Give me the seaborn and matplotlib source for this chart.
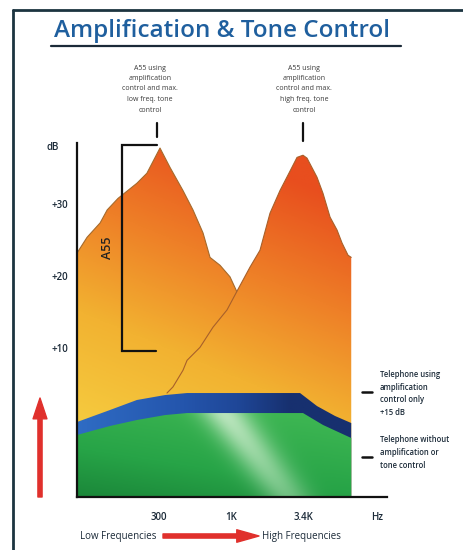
import numpy as np
import matplotlib.pyplot as plt
import seaborn as sns
from matplotlib.colors import LinearSegmentedColormap, to_rgb
from matplotlib.lines import Line2D
from matplotlib.patches import FancyArrowPatch
from matplotlib.ticker import FixedLocator, NullLocator


# Curves (frequency in Hz, level in dB)
low_tone_hz = [76, 90, 112, 126, 151, 207, 245, 305, 361, 448, 530, 627, 705, 834, 985, 1107, 1400, 1800]
low_tone_db = [23.2, 25.4, 27.4, 29.2, 30.8, 32.9, 34.3, 37.8, 35.1, 31.9, 29.2, 26.0, 22.6, 21.5, 19.9, 17.8, 10.0, 3.0]

high_tone_hz = [343, 379, 448, 480, 596, 741, 937, 1107, 1377, 1628, 1925, 2276, 2692, 3026,
                3344, 3576, 4227, 4675, 5260, 5915, 6430, 7110, 7500]
high_tone_db = [3.75, 4.6, 6.9, 8.3, 10.1, 12.9, 15.3, 17.9, 21.25, 23.6, 28.75, 31.9, 34.6, 36.5,
                36.8, 36.4, 33.75, 31.5, 28.2, 26.4, 24.6, 22.9, 22.6]

amp_only_hz = [76, 132, 207, 332, 480, 3182, 4227, 5718, 7500]
amp_only_db = [-0.28, 1.39, 2.78, 3.47, 3.75, 3.75, 1.94, 0.56, -0.42]

plain_phone_hz = [76, 132, 207, 332, 480, 3344, 4675, 7500]
plain_phone_db = [-2.08, -0.83, 0.0, 0.69, 0.97, 0.97, -0.69, -2.5]

x_ticks = [300, 1000, 3400]
x_tick_labels = ["300", "1K", "3.4K"]
y_ticks = [0, 10, 20, 30]
y_tick_labels = ["", "+10", "+20", "+30"]

x_range = (76, 13650)
y_range = (-10.7, 38.5)

W, H = 464, 550
ink = "#1b2a38"


def fx(x):
    return x / W


def fy(y):
    return 1 - y / H


def clip_to(im, coll):
    im.set_clip_path(coll.get_paths()[0], coll.get_transform())


sns.set_theme(style="white")
plt.rcParams["font.family"] = ["Open Sans", "DejaVu Sans"]

fig = plt.figure(figsize=(W / 100, H / 100), dpi=100)
ax = fig.add_axes([fx(77), fy(497), fx(387) - fx(77), fy(143) - fy(497)])
ax.set_xscale("log")
ax.set_xlim(*x_range)
ax.set_ylim(*y_range)
ax.set_autoscale_on(False)

# gradient images in axes space
u, v = np.meshgrid(np.linspace(0, 1, 300), np.linspace(0, 1, 300))

orange_cmap = LinearSegmentedColormap.from_list(
    "orng", [(0, "#f6d343"), (0.4, "#f2b231"), (0.7, "#ee7f27"), (1, "#e84e1e")])
t_orange = np.clip(0.95 * v + 0.35 * u - 0.1, 0, 1)
orange_img = orange_cmap(t_orange)

blue_cmap = LinearSegmentedColormap.from_list(
    "blu", [(0, "#2f6cc4"), (0.5, "#2455ac"), (0.75, "#1f4798"), (1, "#17306f")])
blue_img = blue_cmap(np.clip(u * 1.45, 0, 1))

green_cmap = LinearSegmentedColormap.from_list(
    "grn", [(0, "#0f6a2c"), (0.6, "#27a447"), (1, "#3cb552")])
green_base = green_cmap(np.clip(0.3 + 2.2 * v + 0.3 * u, 0, 1))[..., :3]
band = np.exp(-((u - (0.68 - 0.87 * v)) ** 2) / 0.006) * np.clip(0.45 + 1.8 * v, 0, 0.85)
hi = np.array(to_rgb("#cdeccd"))
green_img = green_base * (1 - band[..., None]) + hi * band[..., None]

floor = y_range[0]

# A55, low frequency tone control
low_fill = ax.fill_between(low_tone_hz, low_tone_db, floor, facecolor="none", edgecolor="none", zorder=1)
im = ax.imshow(orange_img, extent=[0, 1, 0, 1], transform=ax.transAxes, origin="lower",
               aspect="auto", interpolation="bilinear", zorder=1)
clip_to(im, low_fill)
sns.lineplot(x=low_tone_hz, y=low_tone_db, sort=False, estimator=None, color="#a56a2c",
             lw=0.8, ax=ax, zorder=1.5)

# A55, high frequency tone control
high_fill = ax.fill_between(high_tone_hz, high_tone_db, floor, facecolor="none", edgecolor="none", zorder=2)
im = ax.imshow(orange_img, extent=[0, 1, 0, 1], transform=ax.transAxes, origin="lower",
               aspect="auto", interpolation="bilinear", zorder=2)
clip_to(im, high_fill)
sns.lineplot(x=high_tone_hz, y=high_tone_db, sort=False, estimator=None, color="#a8602a",
             lw=0.8, ax=ax, zorder=2.5)

# telephone with amplification only
amp_fill = ax.fill_between(amp_only_hz, amp_only_db, floor, facecolor="none", edgecolor="none", zorder=3)
im = ax.imshow(blue_img, extent=[0, 1, 0, 1], transform=ax.transAxes, origin="lower",
               aspect="auto", interpolation="bilinear", zorder=3)
clip_to(im, amp_fill)

# telephone without amplification
plain_fill = ax.fill_between(plain_phone_hz, plain_phone_db, floor, facecolor="none", edgecolor="none", zorder=4)
im = ax.imshow(green_img, extent=[0, 1, 0, 1], transform=ax.transAxes, origin="lower",
               aspect="auto", interpolation="bilinear", zorder=4)
clip_to(im, plain_fill)

# axes styling
sns.despine(ax=ax)
for side in ["left", "bottom"]:
    ax.spines[side].set_color("#111111")
    ax.spines[side].set_linewidth(1.6)
    ax.spines[side].set_zorder(10)
ax.xaxis.set_zorder(10)
ax.yaxis.set_zorder(10)
ax.xaxis.set_major_locator(FixedLocator(x_ticks))
ax.xaxis.set_minor_locator(NullLocator())
ax.set_xticklabels(x_tick_labels)
ax.set_yticks(y_ticks)
ax.set_yticklabels(y_tick_labels)
ax.tick_params(direction="inout", length=9, width=1.5, color="#111111",
               labelsize=7, labelcolor=ink)
ax.tick_params(axis="x", pad=6)
ax.tick_params(axis="y", pad=2)
for lab in ax.get_xticklabels() + ax.get_yticklabels():
    lab.set_fontweight("semibold")
ax.set_xlabel("")
ax.set_ylabel("")
ax.patch.set_alpha(0)

# A55 bracket
ax.plot([290, 161.5, 161.5, 285], [38.2, 38.2, 9.6, 9.6], color="#111111", lw=1.6,
        clip_on=False, zorder=11, solid_joinstyle="miter")
fig.text(fx(108), fy(248), "A55", rotation=90, ha="center", va="center", fontsize=9,
         color="#222222", fontweight="semibold")

# frame and title
fig.add_artist(Line2D([fx(13), 1], [fy(10), fy(10)], color="#1c3440", lw=2))
fig.add_artist(Line2D([fx(13), fx(13)], [fy(10), 0], color="#1c3440", lw=2))
fig.text(fx(54), fy(31), "Amplification & Tone Control", ha="left", va="center",
         fontsize=17.5, color="#1f5f9e", fontweight="semibold")
fig.add_artist(Line2D([fx(51), fx(401)], [fy(46), fy(46)], color=ink, lw=1.6))

# peak callouts
note_kw = dict(ha="center", va="center", fontsize=5, linespacing=1.7, color="#3a3a3a")
fig.text(fx(150), fy(89), "A55 using\namplification\ncontrol and max.\nlow freq. tone\ncontrol", **note_kw)
fig.text(fx(304), fy(89), "A55 using\namplification\ncontrol and max.\nhigh freq. tone\ncontrol", **note_kw)
fig.add_artist(Line2D([fx(157), fx(157)], [fy(123), fy(137)], color="#111111", lw=1.6))
fig.add_artist(Line2D([fx(303), fx(303)], [fy(123), fy(141)], color="#111111", lw=1.6))

# right side legend notes
side_kw = dict(ha="left", va="center", fontsize=5.5, linespacing=1.55, color=ink, fontweight="semibold")
fig.text(fx(380), fy(393.5), "Telephone using\namplification\ncontrol only\n+15 dB", **side_kw)
fig.text(fx(380), fy(452.5), "Telephone without\namplification or\ntone control", **side_kw)
fig.add_artist(Line2D([fx(362), fx(372)], [fy(392), fy(392)], color="#111111", lw=1.8))
fig.add_artist(Line2D([fx(362), fx(372)], [fy(457), fy(457)], color="#111111", lw=1.8))

# units
fig.text(fx(53), fy(148), "dB", ha="center", va="center", fontsize=7, color=ink, fontweight="semibold")
fig.text(fx(377), fy(517), "Hz", ha="center", va="center", fontsize=7, color=ink, fontweight="semibold")

# arrows
fig.add_artist(FancyArrowPatch((fx(40), fy(497)), (fx(40), fy(398)), transform=fig.transFigure,
                               arrowstyle="simple,head_length=1.5,head_width=1.0,tail_width=0.3",
                               mutation_scale=10, color="#e0302c", shrinkA=0, shrinkB=0))
fig.add_artist(FancyArrowPatch((fx(163), fy(536)), (fx(259), fy(536)), transform=fig.transFigure,
                               arrowstyle="simple,head_length=1.6,head_width=0.9,tail_width=0.3",
                               mutation_scale=10, color="#e0302c", shrinkA=0, shrinkB=0))
fig.text(fx(80), fy(536), "Low Frequencies", ha="left", va="center", fontsize=7, color=ink)
fig.text(fx(262), fy(536), "High Frequencies", ha="left", va="center", fontsize=7, color=ink)

fig.savefig("out.png", dpi=100, facecolor="white")
